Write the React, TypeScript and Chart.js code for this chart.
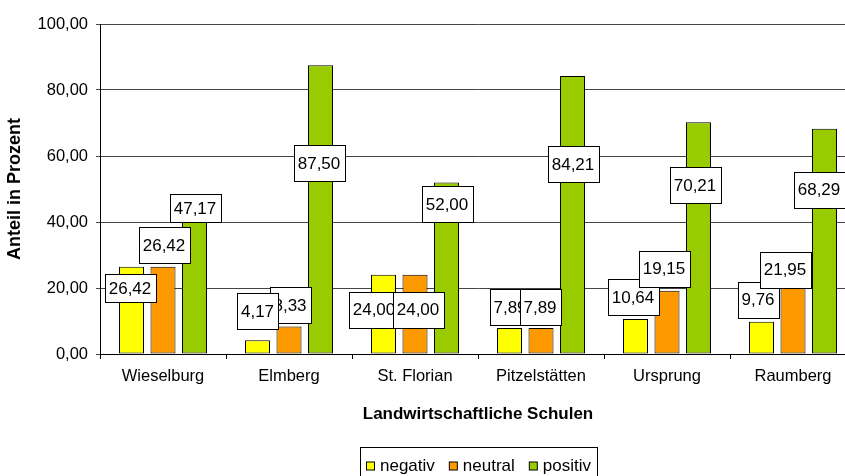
import React, { useEffect, useRef } from 'react';
import { Chart, registerables } from 'chart.js';

Chart.register(...registerables);

const FONT = "'Liberation Sans', Arial, sans-serif";

const categories = ['Wieselburg', 'Elmberg', 'St. Florian', 'Pitzelstätten', 'Ursprung', 'Raumberg'];
const seriesNames = ['negativ', 'neutral', 'positiv'];
const negativ = [26.42, 4.17, 24.0, 7.89, 10.64, 9.76];
const neutral = [26.42, 8.33, 24.0, 7.89, 19.15, 21.95];
const positiv = [47.17, 87.5, 52.0, 84.21, 70.21, 68.29];
const yMin = 0;
const yMax = 100;
const yStep = 20;

const seriesColors = ['#FFFF00', '#FF9900', '#99CC00'];

// data-label placement: [dx, dy, boxHeight, zOrder] in pixels relative to each bar's top centre
const labelOffsets = [
  [[-1.5, 21, 28, 0], [0, -29, 36, 5], [-9.5, 35, 36, 0], [0.5, -21, 36, 0], [-2.5, -22, 36, 0], [-3.5, -22, 36, 0]],
  [[1, -22, 36, 1], [1, -21.5, 36, 1], [3, 35, 36, 1], [-1, -21, 36, 1], [-3, -22, 36, 1], [-8, -12, 36, 1]],
  [[0.5, 10, 28, 2], [-1.5, 98, 36, 2], [0.5, 21.5, 36, 2], [0.5, 88, 36, 2], [-3.5, 63, 36, 2], [-5.5, 61, 36, 2]],
];

const fmt = (v: number) => v.toFixed(2).replace('.', ',');

const labelPlugin = {
  id: 'boxedLabels',
  afterDatasetsDraw(chart: any) {
    const ctx = chart.ctx;
    ctx.save();
    ctx.font = `17px ${FONT}`;
    ctx.textAlign = 'center';
    ctx.textBaseline = 'middle';
    const jobs: any[] = [];
    chart.data.datasets.forEach((ds: any, i: number) => {
      const meta = chart.getDatasetMeta(i);
      meta.data.forEach((el: any, j: number) => {
        const [dx, dy, h, z] = labelOffsets[i][j];
        jobs.push({ el, dx, dy, h, z, text: fmt(ds.data[j]) });
      });
    });
    jobs.sort((a, b) => a.z - b.z);
    jobs.forEach(({ el, dx, dy, h, text }) => {
      const w = Math.round(ctx.measureText(text).width + 8);
      const cx = el.x + dx;
      const cy = el.y + dy;
      const x0 = Math.round(cx - w / 2) + 0.5;
      const y0 = Math.round(cy - h / 2) + 0.5;
      ctx.fillStyle = '#ffffff';
      ctx.fillRect(x0, y0, w, h);
      ctx.strokeStyle = '#000000';
      ctx.lineWidth = 1;
      ctx.strokeRect(x0, y0, w, h);
      ctx.fillStyle = '#000000';
      ctx.fillText(text, cx, cy + 1);
    });
    ctx.restore();
  },
};

const legendPlugin = {
  id: 'boxLegend',
  afterDraw(chart: any) {
    const ctx = chart.ctx;
    const ca = chart.chartArea;
    ctx.save();
    ctx.font = `17px ${FONT}`;
    ctx.textBaseline = 'middle';
    ctx.textAlign = 'left';
    const sq = 9;
    const gapST = 5;
    const gapItem = 14;
    const pad = 6;
    const items = chart.data.datasets.map((ds: any) => ({
      text: ds.label,
      color: ds.backgroundColor,
      w: ctx.measureText(ds.label).width,
    }));
    const total = Math.round(
      pad * 2 + items.reduce((a: number, it: any) => a + sq + gapST + it.w, 0) + gapItem * (items.length - 1)
    );
    const cx = (ca.left + ca.right) / 2;
    const top = chart.height - 29;
    const left = Math.round(cx - total / 2);
    ctx.fillStyle = '#ffffff';
    ctx.fillRect(left, top, total, 40);
    ctx.strokeStyle = '#000000';
    ctx.lineWidth = 1;
    ctx.strokeRect(left + 0.5, top + 0.5, total, 40);
    let x = left + pad;
    const cy = top + 19;
    items.forEach((it: any) => {
      ctx.fillStyle = it.color;
      ctx.fillRect(x + 0.5, cy - sq / 2 + 0.5, sq - 1, sq - 1);
      ctx.strokeStyle = '#000000';
      ctx.strokeRect(x + 0.5, cy - sq / 2 + 0.5, sq - 1, sq - 1);
      x += sq + gapST;
      ctx.fillStyle = '#000000';
      ctx.fillText(it.text, x, cy);
      x += it.w + gapItem;
    });
    ctx.restore();
  },
};

export default function App() {
  const ref = useRef<HTMLCanvasElement | null>(null);

  useEffect(() => {
    if (!ref.current) return;
    const seriesValues = [negativ, neutral, positiv];
    const chart = new Chart(ref.current, {
      type: 'bar',
      data: {
        labels: categories,
        datasets: seriesNames.map((name, i) => ({
          label: name,
          data: seriesValues[i],
          backgroundColor: seriesColors[i],
          borderColor: '#000000',
          borderWidth: 1,
          borderSkipped: false,
          categoryPercentage: 0.75,
          barPercentage: 0.794,
        })),
      },
      options: {
        responsive: false,
        animation: false,
        layout: { padding: { top: 24, right: 4, bottom: 51, left: 0 } },
        plugins: {
          legend: { display: false },
          tooltip: { enabled: false },
        },
        scales: {
          x: {
            grid: {
              display: true,
              drawOnChartArea: false,
              drawTicks: true,
              tickLength: 5,
              color: '#000000',
              offset: true,
            },
            border: { display: true, color: '#000000', width: 1 },
            ticks: {
              color: '#000000',
              font: { family: FONT, size: 16.5 },
              padding: 8,
              maxRotation: 0,
              autoSkip: false,
            },
            title: {
              display: true,
              text: 'Landwirtschaftliche Schulen',
              color: '#000000',
              font: { family: FONT, size: 17, weight: 'bold' },
              padding: 0,
            },
            afterFit(s: any) {
              s.height = 71;
            },
          },
          y: {
            min: yMin,
            max: yMax,
            ticks: {
              stepSize: yStep,
              color: '#000000',
              font: { family: FONT, size: 16.5 },
              padding: 8,
              callback: (v: any) => fmt(Number(v)),
            },
            grid: { color: '#444444', tickLength: 4, drawTicks: true },
            border: { display: true, color: '#000000', width: 1 },
            title: {
              display: true,
              text: 'Anteil in Prozent',
              color: '#000000',
              font: { family: FONT, size: 18, weight: 'bold' },
              padding: { top: 4, bottom: 0 },
            },
            afterFit(s: any) {
              s.width = 100;
            },
          },
        },
      },
      plugins: [labelPlugin, legendPlugin],
    } as any);
    return () => chart.destroy();
  }, []);

  return (
    <div style={{ position: 'fixed', left: 0, top: 0, width: 845, height: 476, overflow: 'hidden', background: '#fff' }}>
      <canvas ref={ref} width={860} height={476} style={{ width: 860, height: 476, display: 'block' }} />
    </div>
  );
}
